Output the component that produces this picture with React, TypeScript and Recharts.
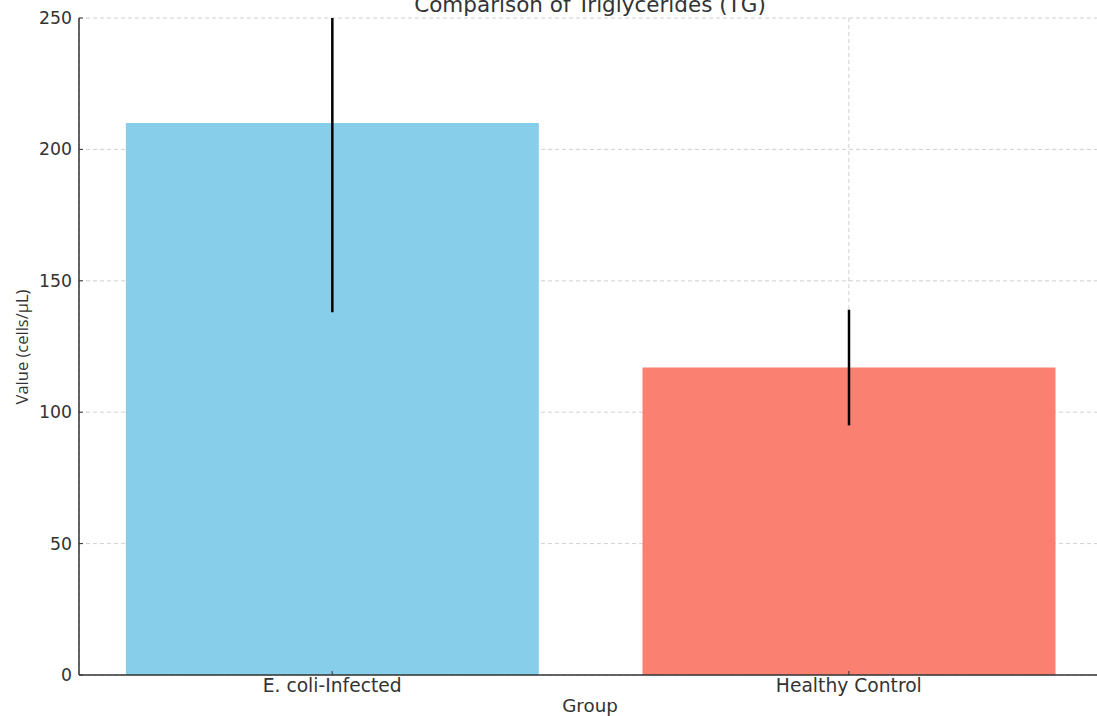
import React from 'react';
import { BarChart, Bar, XAxis, YAxis, CartesianGrid, ErrorBar, Cell } from 'recharts';

const groups = ['E. coli-Infected', 'Healthy Control'];
const values = [210, 117];
const errors = [72, 22];
const colors = ['#87CEEB', '#FA8072'];
const yTicks = [0, 50, 100, 150, 200, 250];

const data = groups.map((g, i) => ({ x: i, name: g, value: values[i], err: errors[i] }));

const FONT = '"DejaVu Sans", sans-serif';

const YTick = (props: any) => {
  const { x, y, payload } = props;
  return (
    <g>
      <line x1={x + 7} x2={x + 11} y1={y} y2={y} stroke="#333" strokeWidth={1} />
      <text x={x} y={y} textAnchor="end" dominantBaseline="central" fontFamily={FONT} fontSize={17.3} fill="#333">
        {payload.value}
      </text>
    </g>
  );
};

const XTick = (props: any) => {
  const { x, y, payload } = props;
  return (
    <g>
      <line x1={x} x2={x} y1={y - 4} y2={y - 8} stroke="#333" strokeWidth={1} />
      <text x={x} y={y} dy="0.72em" textAnchor="middle" fontFamily={FONT} fontSize={18.7} fill="#333">
        {groups[payload.value]}
      </text>
    </g>
  );
};

export default function App() {
  return (
    <div style={{ position: 'absolute', left: 0, top: 0, width: 1097, height: 716, overflow: 'hidden', background: '#fff' }}>
      <style>{`.recharts-errorBar { clip-path: url(#plotClip); }`}</style>
      <svg width={0} height={0} style={{ position: 'absolute' }}>
        <defs>
          <clipPath id="plotClip" clipPathUnits="userSpaceOnUse">
            <rect x={0} y={18} width={1102} height={657} />
          </clipPath>
        </defs>
      </svg>
      <BarChart
        width={1102}
        height={716}
        data={data}
        margin={{ top: 18, right: 0, left: 19, bottom: 11 }}
      >
        <XAxis
          dataKey="x"
          type="number"
          domain={[-0.49, 1.49]}
          ticks={[0, 1]}
          allowDataOverflow
          tickSize={0}
          tickMargin={4}
          height={30}
          tick={<XTick />}
          axisLine={{ stroke: '#333', strokeWidth: 1.5 }}
          tickLine={false}
        />
        <YAxis
          type="number"
          domain={[0, 250]}
          ticks={yTicks}
          allowDataOverflow
          width={60}
          tickSize={0}
          tickMargin={7}
          tick={<YTick />}
          axisLine={{ stroke: '#333', strokeWidth: 1.5 }}
          tickLine={false}
        />
        <Bar dataKey="value" barSize={413} isAnimationActive={false}>
          {data.map((d, i) => (
            <Cell key={d.name} fill={colors[i]} />
          ))}
          <ErrorBar dataKey="err" width={0} strokeWidth={2.5} stroke="#000" direction="y" />
        </Bar>
        <CartesianGrid strokeDasharray="4 3" stroke="#b0b0b0" strokeOpacity={0.6} />
      </BarChart>
      <div style={{ position: 'absolute', left: 0, width: 1180, top: -8, lineHeight: 'normal', textAlign: 'center', fontFamily: FONT, fontSize: 21.5, color: '#333', whiteSpace: 'nowrap' }}>
        Comparison of Triglycerides (TG)
      </div>
      <div style={{ position: 'absolute', left: 0, width: 1180, top: 695, lineHeight: 'normal', textAlign: 'center', fontFamily: FONT, fontSize: 18.3, color: '#333', whiteSpace: 'nowrap' }}>
        Group
      </div>
      <div style={{ position: 'absolute', left: 21, top: 347, width: 0, height: 0 }}>
        <div style={{ position: 'absolute', transform: 'translate(-50%, -50%) rotate(-90deg)', fontFamily: '"Open Sans", sans-serif', fontSize: 16.5, color: '#333', whiteSpace: 'nowrap' }}>
          Value (cells/μL)
        </div>
      </div>
    </div>
  );
}
